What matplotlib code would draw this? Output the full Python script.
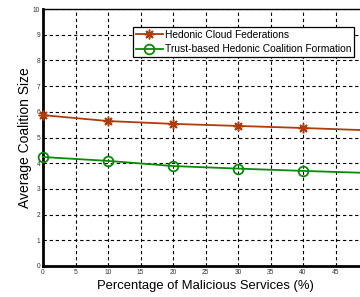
import matplotlib
matplotlib.use('Agg')
import matplotlib.pyplot as plt
import numpy as np

malicious_pct = [0, 10, 20, 30, 40, 50]
hedonic_cloud = [5.87, 5.64, 5.53, 5.45, 5.37, 5.28]
trust_hedonic = [4.24, 4.09, 3.89, 3.79, 3.70, 3.62]
labels = ['Hedonic Cloud Federations', 'Trust-based Hedonic Coalition Formation']

plt.rcParams['font.family'] = ['Liberation Sans', 'DejaVu Sans']

fig = plt.figure(figsize=(3.6, 2.97), dpi=100)
ax = fig.add_axes([43/360, 1 - 266/297, 325/360, 257/297])

ax.plot(malicious_pct, hedonic_cloud, color='#b03c0c', marker=(8, 2, 0), markersize=7,
        markeredgewidth=1.1, linewidth=1.3, label=labels[0], clip_on=False, zorder=4)
ax.plot(malicious_pct, trust_hedonic, color='#0a8a0a', marker='o', markersize=7,
        markerfacecolor='none', markeredgewidth=1.3, linewidth=1.3, label=labels[1],
        clip_on=False, zorder=4)

ax.set_xlim(0, 50)
ax.set_ylim(0, 10)
ax.set_xticks(np.arange(0, 50, 5))
ax.set_yticks(np.arange(0, 11, 1))
ax.tick_params(labelsize=4.8, length=0, pad=2, colors='#333333')
ax.grid(True, color='black', linestyle=(0, (3, 2.5)), linewidth=0.8)
for s in ['left', 'bottom']:
    ax.spines[s].set_linewidth(2)
ax.spines['top'].set_linewidth(1)

ax.set_xlabel('Percentage of Malicious Services (%)', fontsize=9.4, labelpad=3)
ax.set_ylabel('Average Coalition Size', fontsize=10, labelpad=1)

leg = ax.legend(loc='upper left', bbox_to_anchor=(90/325, 1 - 18/257), fontsize=7.4,
                fancybox=False, framealpha=1, edgecolor='black', borderpad=0.3,
                handlelength=2.6, handletextpad=0.2, labelspacing=0.4, borderaxespad=0)
leg.get_frame().set_linewidth(0.9)

plt.savefig('out.png', dpi=100)
